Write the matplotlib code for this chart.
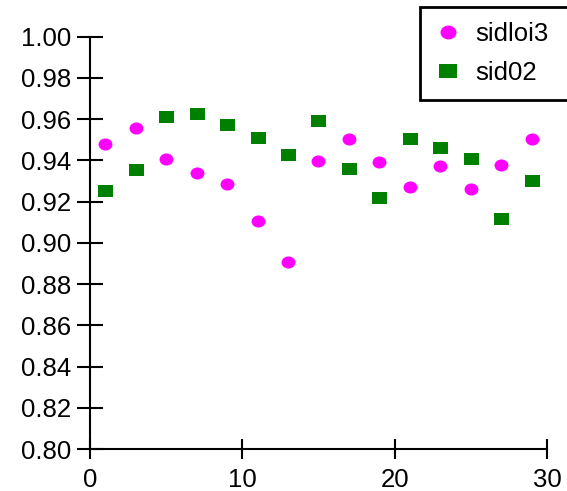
import matplotlib
matplotlib.use("Agg")
import matplotlib.pyplot as plt
from matplotlib.path import Path
from matplotlib.transforms import Affine2D

x_vals = [1, 3, 5, 7, 9, 11, 13, 15, 17, 19, 21, 23, 25, 27, 29]
sidloi3 = [0.948, 0.9555, 0.9405, 0.934, 0.9284, 0.9105, 0.8906, 0.9395,
           0.9503, 0.9392, 0.927, 0.9374, 0.926, 0.9379, 0.9505]
sid02 = [0.9252, 0.9353, 0.9612, 0.9623, 0.9571, 0.9508, 0.9427, 0.9591,
         0.9358, 0.9218, 0.9505, 0.9461, 0.9406, 0.9115, 0.9300]
x_ticks = [0, 10, 20, 30]
y_ticks = [0.80, 0.82, 0.84, 0.86, 0.88, 0.90, 0.92, 0.94, 0.96, 0.98, 1.00]

plt.rcParams['font.family'] = ['Liberation Sans', 'DejaVu Sans']

# slightly wide markers
ellipse = Path.unit_circle().transformed(Affine2D().scale(1.15, 1.0))
rect = Path([(-1, -1), (1, -1), (1, 1), (-1, 1), (-1, -1)],
            [Path.MOVETO, Path.LINETO, Path.LINETO, Path.LINETO, Path.CLOSEPOLY]
            ).transformed(Affine2D().scale(1.28, 1.0))

fig = plt.figure(figsize=(5.67, 4.91), dpi=100)
ax = fig.add_axes([0.1587, 0.0855, 0.806, 0.8398])

ax.plot(x_vals, sidloi3, linestyle='none', marker=ellipse, markersize=10,
        color='#ff00ff', markeredgewidth=0, label='sidloi3', clip_on=False)
ax.plot(x_vals, sid02, linestyle='none', marker=rect, markersize=10.8,
        color='#008000', markeredgewidth=0, label='sid02', clip_on=False)

ax.set_xlim(0, 30)
ax.set_ylim(0.80, 1.00)
ax.set_xticks(x_ticks)
ax.set_xticklabels([str(t) for t in x_ticks])
ax.set_yticks(y_ticks)
ax.set_yticklabels([f"{t:.2f}" for t in y_ticks])

for side in ('top', 'right'):
    ax.spines[side].set_visible(False)
for side in ('left', 'bottom'):
    ax.spines[side].set_linewidth(1.5)

ax.tick_params(axis='y', direction='inout', length=19, width=1.5,
               labelsize=18.5, pad=4)
ax.tick_params(axis='x', direction='inout', length=15, width=1.5,
               labelsize=18.5, pad=6.5)

leg = ax.legend(loc='upper left',
                bbox_to_anchor=(0.7407, 0.0, 0.275, 0.9857),
                bbox_transform=fig.transFigure, mode='expand',
                borderaxespad=0, fancybox=False, framealpha=1,
                edgecolor='black', fontsize=18.5, handletextpad=0.55,
                borderpad=0.6, labelspacing=0.55, handlelength=1.0,
                markerscale=1.15)
leg.get_frame().set_linewidth(2)

fig.savefig("out.png", dpi=100)
